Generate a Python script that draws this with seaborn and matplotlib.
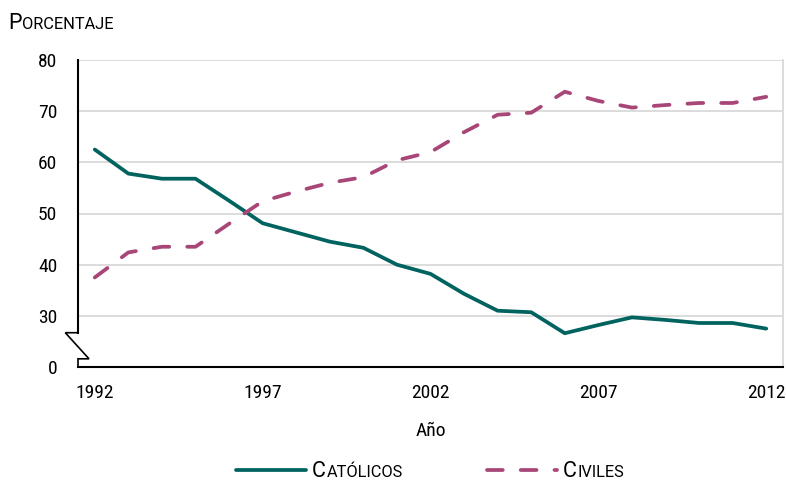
import numpy as np
import pandas as pd
import matplotlib
matplotlib.use('Agg')
import matplotlib.pyplot as plt
import matplotlib.transforms as mtransforms
from matplotlib import font_manager
from matplotlib.lines import Line2D
import seaborn as sns

# Data
years = list(range(1992, 2013))
catolicos = [62.5, 57.8, 56.8, 56.8, 52.5, 48.1, 46.3, 44.5, 43.3, 40.0, 38.2,
             34.3, 31.0, 30.7, 26.6, 28.2, 29.7, 29.2, 28.6, 28.6, 27.5]
civiles = [37.5, 42.4, 43.5, 43.5, 48.0, 52.4, 54.3, 56.0, 57.1, 60.4, 62.0,
           65.9, 69.3, 69.7, 73.8, 72.0, 70.7, 71.2, 71.6, 71.6, 72.8]
series_names = ['Católicos', 'Civiles']
colors = {'Católicos': '#00635F', 'Civiles': '#A84677'}
major_years = [1992, 1997, 2002, 2007, 2012]
y_ticks = [20, 30, 40, 50, 60, 70, 80]
y_labels = ['0', '30', '40', '50', '60', '70', '80']

df = pd.DataFrame({'Año': years * 2,
                   'Porcentaje': catolicos + civiles,
                   'Serie': ['Católicos'] * len(years) + ['Civiles'] * len(years)})

sns.set_style('white')
# pick a narrow face if one is installed
names = {f.name for f in font_manager.fontManager.ttflist}
narrow = [n for n in ['Liberation Sans Narrow', 'Roboto Condensed', 'Open Sans Condensed'] if n in names]
caps_font = [n for n in ['Roboto'] if n in names] + ['DejaVu Sans']
plt.rcParams['font.family'] = narrow + ['DejaVu Sans']
plt.rcParams['font.stretch'] = 'condensed'
plt.rcParams['text.color'] = 'black'
plt.rcParams['axes.labelcolor'] = 'black'
plt.rcParams['xtick.color'] = 'black'
plt.rcParams['ytick.color'] = 'black'

dash = (4.2, 4.8)
lw = 2.7

fig = plt.figure(figsize=(7.86, 4.83), dpi=100)
ax = fig.add_axes([78 / 786, 1 - 367 / 483, 705 / 786, 307 / 483])

# gridlines
for v in y_ticks[1:]:
    ax.axhline(v, color='#D9D9D9', lw=1.3, zorder=0)

sns.lineplot(data=df, x='Año', y='Porcentaje', hue='Serie', style='Serie',
             palette=colors, dashes={'Católicos': '', 'Civiles': dash},
             linewidth=lw, legend=False, ax=ax)
for ln in ax.lines:
    ln.set_dash_capstyle('round')
    ln.set_solid_capstyle('round')

ax.set_xlim(1991.5, 2012.5)
ax.set_ylim(20, 80)

ax.set_xticks(major_years)
ax.set_xticklabels([str(y) for y in major_years])
ax.set_xticks(np.arange(1991.5, 2013, 1), minor=True)
ax.tick_params(axis='x', which='major', length=0, pad=12, labelsize=14)
ax.tick_params(axis='x', which='minor', length=4, width=1.3, direction='out', color='black')

ax.set_yticks(y_ticks)
ax.set_yticklabels(y_labels)
ax.set_yticks(np.arange(28, 81, 2), minor=True)
ax.tick_params(axis='y', which='major', length=5, width=1.3, direction='out', pad=10, labelsize=14)
ax.tick_params(axis='y', which='minor', length=5, width=1.3, direction='out')

ax.set_xlabel('Año', fontsize=14, labelpad=15)
ax.set_ylabel('')

ax.spines['top'].set_visible(False)
ax.spines['right'].set_color('#D9D9D9')
ax.spines['right'].set_linewidth(1.3)
ax.spines['bottom'].set_color('black')
ax.spines['bottom'].set_linewidth(1.5)
ax.spines['left'].set_color('black')
ax.spines['left'].set_linewidth(1.5)
ax.spines['left'].set_bounds(26.7, 80)

# axis break
trans = mtransforms.blended_transform_factory(ax.transAxes, ax.transData)
ax.plot([0, -0.018, 0.0156, 0, 0], [26.7, 26.7, 21.6, 21.6, 20],
        color='black', lw=1.2, transform=trans, clip_on=False, solid_joinstyle='miter')


def small_caps(x, y, text, size, color='black'):
    r = fig.canvas.get_renderer()
    t1 = fig.text(x, y, text[0].upper(), fontsize=size, color=color, va='baseline',
                  family=caps_font, stretch='normal')
    bb = t1.get_window_extent(renderer=r)
    fig.text(bb.x1 / fig.bbox.width + 0.001, y, text[1:].upper(), fontsize=size * 0.76,
             color=color, va='baseline', family=caps_font, stretch='normal')


small_caps(8 / 786, 1 - 29 / 483, 'Porcentaje', 15.5)

# legend
leg_y = 1 - 470 / 483
fig.add_artist(Line2D([236 / 786, 306 / 786], [leg_y, leg_y], color=colors['Católicos'],
                      lw=lw, solid_capstyle='round'))
fig.add_artist(Line2D([487 / 786, 557 / 786], [leg_y, leg_y], color=colors['Civiles'],
                      lw=lw, dashes=dash, dash_capstyle='round'))
small_caps(312 / 786, 1 - 477 / 483, 'Católicos', 15.5)
small_caps(563 / 786, 1 - 477 / 483, 'Civiles', 15.5)

fig.savefig('out.png', dpi=100)
